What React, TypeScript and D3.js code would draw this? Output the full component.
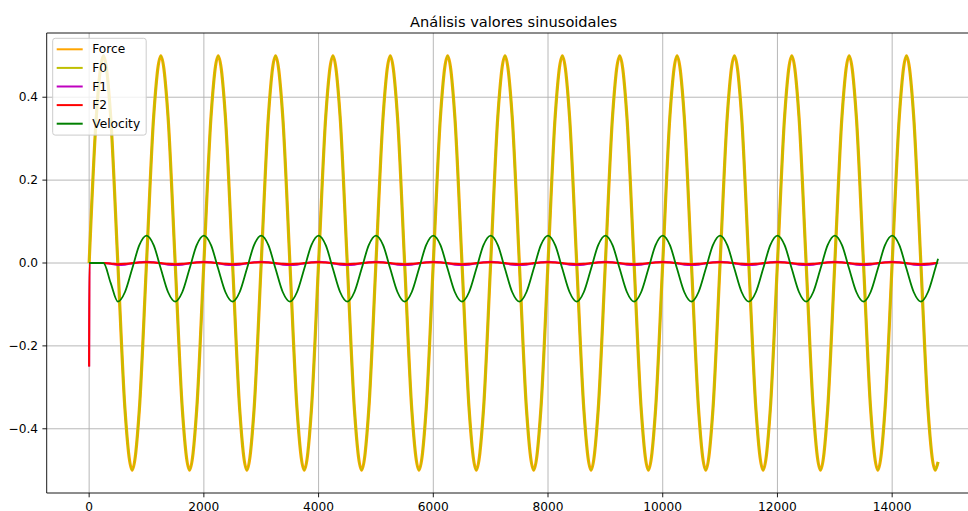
import React, { useMemo } from 'react';
import * as d3 from 'd3';

// sample positions (x)
const xs = [
  0, 5, 125, 250, 375, 500, 625, 750, 875,
  1000, 1125, 1250, 1375, 1500, 1625, 1750, 1875,
  2000, 2125, 2250, 2375, 2500, 2625, 2750, 2875,
  3000, 3125, 3250, 3375, 3500, 3625, 3750, 3875,
  4000, 4125, 4250, 4375, 4500, 4625, 4750, 4875,
  5000, 5125, 5250, 5375, 5500, 5625, 5750, 5875,
  6000, 6125, 6250, 6375, 6500, 6625, 6750, 6875,
  7000, 7125, 7250, 7375, 7500, 7625, 7750, 7875,
  8000, 8125, 8250, 8375, 8500, 8625, 8750, 8875,
  9000, 9125, 9250, 9375, 9500, 9625, 9750, 9875,
  10000, 10125, 10250, 10375, 10500, 10625, 10750, 10875,
  11000, 11125, 11250, 11375, 11500, 11625, 11750, 11875,
  12000, 12125, 12250, 12375, 12500, 12625, 12750, 12875,
  13000, 13125, 13250, 13375, 13500, 13625, 13750, 13875,
  14000, 14125, 14250, 14375, 14500, 14625, 14750, 14800,
];

const force = [
  0, 0.016, 0.354, 0.5, 0.354, 0, -0.354, -0.5, -0.354,
  0, 0.354, 0.5, 0.354, 0, -0.354, -0.5, -0.354,
  0, 0.354, 0.5, 0.354, 0, -0.354, -0.5, -0.354,
  0, 0.354, 0.5, 0.354, 0, -0.354, -0.5, -0.354,
  0, 0.354, 0.5, 0.354, 0, -0.354, -0.5, -0.354,
  0, 0.354, 0.5, 0.354, 0, -0.354, -0.5, -0.354,
  0, 0.354, 0.5, 0.354, 0, -0.354, -0.5, -0.354,
  0, 0.354, 0.5, 0.354, 0, -0.354, -0.5, -0.354,
  0, 0.354, 0.5, 0.354, 0, -0.354, -0.5, -0.354,
  0, 0.354, 0.5, 0.354, 0, -0.354, -0.5, -0.354,
  0, 0.354, 0.5, 0.354, 0, -0.354, -0.5, -0.354,
  0, 0.354, 0.5, 0.354, 0, -0.354, -0.5, -0.354,
  0, 0.354, 0.5, 0.354, 0, -0.354, -0.5, -0.354,
  0, 0.354, 0.5, 0.354, 0, -0.354, -0.5, -0.354,
  0, 0.354, 0.5, 0.354, 0, -0.354, -0.5, -0.48,
];

// F0 lies right on top of Force
const f0 = [
  0, 0.016, 0.354, 0.5, 0.354, 0, -0.354, -0.5, -0.354,
  0, 0.354, 0.5, 0.354, 0, -0.354, -0.5, -0.354,
  0, 0.354, 0.5, 0.354, 0, -0.354, -0.5, -0.354,
  0, 0.354, 0.5, 0.354, 0, -0.354, -0.5, -0.354,
  0, 0.354, 0.5, 0.354, 0, -0.354, -0.5, -0.354,
  0, 0.354, 0.5, 0.354, 0, -0.354, -0.5, -0.354,
  0, 0.354, 0.5, 0.354, 0, -0.354, -0.5, -0.354,
  0, 0.354, 0.5, 0.354, 0, -0.354, -0.5, -0.354,
  0, 0.354, 0.5, 0.354, 0, -0.354, -0.5, -0.354,
  0, 0.354, 0.5, 0.354, 0, -0.354, -0.5, -0.354,
  0, 0.354, 0.5, 0.354, 0, -0.354, -0.5, -0.354,
  0, 0.354, 0.5, 0.354, 0, -0.354, -0.5, -0.354,
  0, 0.354, 0.5, 0.354, 0, -0.354, -0.5, -0.354,
  0, 0.354, 0.5, 0.354, 0, -0.354, -0.5, -0.354,
  0, 0.354, 0.5, 0.354, 0, -0.354, -0.5, -0.48,
];

const f1 = [
  -0.25, 0, 0, 0, -0.002, -0.005, -0.004, -0.001, 0.002,
  0.003, 0.002, -0.001, -0.004, -0.005, -0.004, -0.001, 0.002,
  0.003, 0.002, -0.001, -0.004, -0.005, -0.004, -0.001, 0.002,
  0.003, 0.002, -0.001, -0.004, -0.005, -0.004, -0.001, 0.002,
  0.003, 0.002, -0.001, -0.004, -0.005, -0.004, -0.001, 0.002,
  0.003, 0.002, -0.001, -0.004, -0.005, -0.004, -0.001, 0.002,
  0.003, 0.002, -0.001, -0.004, -0.005, -0.004, -0.001, 0.002,
  0.003, 0.002, -0.001, -0.004, -0.005, -0.004, -0.001, 0.002,
  0.003, 0.002, -0.001, -0.004, -0.005, -0.004, -0.001, 0.002,
  0.003, 0.002, -0.001, -0.004, -0.005, -0.004, -0.001, 0.002,
  0.003, 0.002, -0.001, -0.004, -0.005, -0.004, -0.001, 0.002,
  0.003, 0.002, -0.001, -0.004, -0.005, -0.004, -0.001, 0.002,
  0.003, 0.002, -0.001, -0.004, -0.005, -0.004, -0.001, 0.002,
  0.003, 0.002, -0.001, -0.004, -0.005, -0.004, -0.001, 0.002,
  0.003, 0.002, -0.001, -0.004, -0.005, -0.004, -0.001, 0.001,
];

const f2 = [
  -0.25, 0, 0, 0, -0.001, -0.003, -0.002, 0, 0.001,
  0.002, 0.001, 0, -0.002, -0.003, -0.002, 0, 0.001,
  0.002, 0.001, 0, -0.002, -0.003, -0.002, 0, 0.001,
  0.002, 0.001, 0, -0.002, -0.003, -0.002, 0, 0.001,
  0.002, 0.001, 0, -0.002, -0.003, -0.002, 0, 0.001,
  0.002, 0.001, 0, -0.002, -0.003, -0.002, 0, 0.001,
  0.002, 0.001, 0, -0.002, -0.003, -0.002, 0, 0.001,
  0.002, 0.001, 0, -0.002, -0.003, -0.002, 0, 0.001,
  0.002, 0.001, 0, -0.002, -0.003, -0.002, 0, 0.001,
  0.002, 0.001, 0, -0.002, -0.003, -0.002, 0, 0.001,
  0.002, 0.001, 0, -0.002, -0.003, -0.002, 0, 0.001,
  0.002, 0.001, 0, -0.002, -0.003, -0.002, 0, 0.001,
  0.002, 0.001, 0, -0.002, -0.003, -0.002, 0, 0.001,
  0.002, 0.001, 0, -0.002, -0.003, -0.002, 0, 0.001,
  0.002, 0.001, 0, -0.002, -0.003, -0.002, 0, 0,
];

const velocity = [
  0, 0, 0, 0, -0.048, -0.093, -0.07, -0.014, 0.043,
  0.066, 0.043, -0.014, -0.07, -0.093, -0.07, -0.014, 0.043,
  0.066, 0.043, -0.014, -0.07, -0.093, -0.07, -0.014, 0.043,
  0.066, 0.043, -0.014, -0.07, -0.093, -0.07, -0.014, 0.043,
  0.066, 0.043, -0.014, -0.07, -0.093, -0.07, -0.014, 0.043,
  0.066, 0.043, -0.014, -0.07, -0.093, -0.07, -0.014, 0.043,
  0.066, 0.043, -0.014, -0.07, -0.093, -0.07, -0.014, 0.043,
  0.066, 0.043, -0.014, -0.07, -0.093, -0.07, -0.014, 0.043,
  0.066, 0.043, -0.014, -0.07, -0.093, -0.07, -0.014, 0.043,
  0.066, 0.043, -0.014, -0.07, -0.093, -0.07, -0.014, 0.043,
  0.066, 0.043, -0.014, -0.07, -0.093, -0.07, -0.014, 0.043,
  0.066, 0.043, -0.014, -0.07, -0.093, -0.07, -0.014, 0.043,
  0.066, 0.043, -0.014, -0.07, -0.093, -0.07, -0.014, 0.043,
  0.066, 0.043, -0.014, -0.07, -0.093, -0.07, -0.014, 0.043,
  0.066, 0.043, -0.014, -0.07, -0.093, -0.07, -0.014, 0.01,
];

const xTicks = [0, 2000, 4000, 6000, 8000, 10000, 12000, 14000];
const yTicks = [-0.4, -0.2, 0.0, 0.2, 0.4];

const series = [
  { name: 'Force', values: force, color: '#ffa500', width: 3.2 },
  { name: 'F0', values: f0, color: '#bfbf00', width: 2 },
  { name: 'F1', values: f1, color: '#bf00bf', width: 2 },
  { name: 'F2', values: f2, color: '#ff0000', width: 2 },
  { name: 'Velocity', values: velocity, color: '#008000', width: 1.8 },
];

const W = 968;
const H = 511;
const left = 46.7, right = 980.5, top = 33, bottom = 493;
const FONT = 'DejaVu Sans, sans-serif';

export default function App() {
  const x = useMemo(() => d3.scaleLinear().domain([-740, 15540]).range([left, right]), []);
  const y = useMemo(() => d3.scaleLinear().domain([-0.555, 0.555]).range([bottom, top]), []);

  const lineGen = d3.line<number>()
    .x((d, i) => x(xs[i]))
    .y(d => y(d))
    .curve(d3.curveMonotoneX);

  const fmtY = (v: number) => v.toFixed(1).replace('-', '\u2212');

  return (
    <svg width={W} height={H} style={{ position: 'fixed', left: 0, top: 0, background: '#fff' }}>
      <defs>
        <clipPath id="plot">
          <rect x={left} y={top} width={right - left} height={bottom - top} />
        </clipPath>
      </defs>

      {/* grid */}
      <g stroke="#b0b0b0" strokeWidth={0.9}>
        {xTicks.map(t => (
          <line key={'gx' + t} x1={x(t)} x2={x(t)} y1={top} y2={bottom} />
        ))}
        {yTicks.map(t => (
          <line key={'gy' + t} x1={left} x2={right} y1={y(t)} y2={y(t)} />
        ))}
      </g>

      <g clipPath="url(#plot)" fill="none" strokeLinejoin="round" strokeLinecap="butt">
        {series.map(s => (
          <path key={s.name} d={lineGen(s.values) || ''} stroke={s.color} strokeWidth={s.width} />
        ))}
      </g>

      {/* spines */}
      <g stroke="#000" strokeWidth={0.9} fill="none">
        <line x1={left} x2={left} y1={top} y2={bottom} />
        <line x1={left} x2={right} y1={bottom} y2={bottom} />
        <line x1={left} x2={right} y1={top} y2={top} />
      </g>

      {/* ticks */}
      <g fontFamily={FONT} fontSize={12.2} fill="#000">
        {xTicks.map(t => (
          <g key={'tx' + t}>
            <line x1={x(t)} x2={x(t)} y1={bottom} y2={bottom + 4.3} stroke="#000" strokeWidth={0.9} />
            <text x={x(t)} y={510.8} textAnchor="middle">{t}</text>
          </g>
        ))}
        {yTicks.map(t => (
          <g key={'ty' + t}>
            <line x1={left - 4.3} x2={left} y1={y(t)} y2={y(t)} stroke="#000" strokeWidth={0.9} />
            <text x={left - 8.6} y={y(t)} textAnchor="end" dominantBaseline="central">{fmtY(t)}</text>
          </g>
        ))}
      </g>

      <text x={(left + right) / 2} y={26.5} textAnchor="middle" fontFamily={FONT} fontSize={14.6}>
        Análisis valores sinusoidales
      </text>

      {/* legend */}
      <g fontFamily={FONT} fontSize={12.2}>
        <rect x={52.7} y={38.3} width={93.5} height={96.8} rx={2.5} fill="#fff" fillOpacity={0.8} stroke="#cccccc" strokeWidth={1} />
        {series.map((s, i) => {
          const cy = 49.3 + i * 18.6;
          return (
            <g key={'lg' + s.name}>
              <line x1={56.7} x2={82.7} y1={cy} y2={cy} stroke={s.color} strokeWidth={2} />
              <text x={92.3} y={cy} dominantBaseline="central">{s.name}</text>
            </g>
          );
        })}
      </g>
    </svg>
  );
}
